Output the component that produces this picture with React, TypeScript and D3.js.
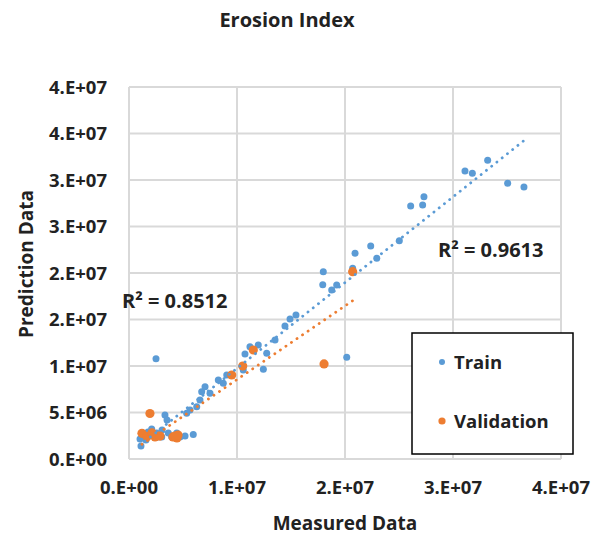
import React, { useEffect, useRef } from 'react'
import * as d3 from 'd3'

// values in units of 1e6
const trainX = [1.02, 1.11, 1.57, 2.1, 2.56, 3.03, 2.69, 3.33, 3.52, 3.64, 3.95, 4.42, 5.95, 2.5, 5.34, 5.65, 6.27, 6.57, 6.73, 7.04, 7.5, 8.27, 8.73, 9.05, 10.58, 10.74, 11.2, 11.97, 12.44, 12.75, 13.52, 14.44, 14.91, 15.46, 17.94, 17.99, 18.77, 19.23, 20.16, 20.71, 20.93, 22.38, 22.94, 25.03, 26.08, 27.19, 27.31, 31.11, 31.79, 33.21, 35.06, 36.57, 1.76, 3.06, 4.72, 5.19]
const trainY = [2.15, 1.4, 2.04, 3.23, 2.8, 2.37, 2.37, 4.73, 4.19, 2.8, 2.4, 2.8, 2.63, 10.78, 4.91, 5.27, 5.62, 6.34, 7.24, 7.77, 7.06, 8.49, 8.14, 9.03, 9.57, 11.29, 12.08, 12.26, 9.65, 11.37, 12.8, 14.3, 15.05, 15.48, 18.74, 20.14, 18.17, 18.71, 10.94, 20.5, 22.12, 22.9, 21.58, 23.47, 27.2, 27.31, 28.2, 30.97, 30.72, 32.12, 29.65, 29.25, 2.9, 3.12, 2.37, 2.47]
const validX = [1.94, 1.2, 1.67, 2.13, 2.41, 4.07, 4.44, 4.26, 4.54, 9.51, 10.53, 11.51, 18.06, 20.71, 2.87]
const validY = [4.89, 2.76, 2.4, 2.8, 2.37, 2.37, 2.26, 2.47, 2.58, 9.03, 10.0, 11.72, 10.22, 20.14, 2.47]

const yTickValues = [0, 5, 10, 15, 20, 25, 30, 35, 40]
const yTickLabels = ['0.E+00', '5.E+06', '1.E+07', '2.E+07', '2.E+07', '3.E+07', '3.E+07', '4.E+07', '4.E+07']
const xTickValues = [0, 10, 20, 30, 40]
const xTickLabels = ['0.E+00', '1.E+07', '2.E+07', '3.E+07', '4.E+07']

const seriesNames = ['Train', 'Validation']
const seriesColors = ['#5B9BD5', '#ED7D31']
const r2Labels = ['R\u00b2 = 0.9613', 'R\u00b2 = 0.8512']

function fit(xs: number[], ys: number[]) {
    const mx = d3.mean(xs)!
    const my = d3.mean(ys)!
    let sxy = 0
    let sxx = 0
    xs.forEach((x, i) => {
        sxy += (x - mx) * (ys[i] - my)
        sxx += (x - mx) * (x - mx)
    })
    const slope = sxy / sxx
    return { slope, intercept: my - slope * mx, x0: d3.min(xs)!, x1: d3.max(xs)! }
}

export default function App() {
    const svgRef = useRef<SVGSVGElement>(null)

    const width = 603
    const height = 537

    useEffect(() => {
        const font = '"Open Sans", "Liberation Sans", sans-serif'
        const svg = d3.select(svgRef.current).attr('width', width).attr('height', height)
        svg.selectAll('*').remove()

        const x = d3.scaleLinear().domain([0, 40]).range([129, 561])
        const y = d3.scaleLinear().domain([0, 40]).range([459, 87])

        svg.append('rect').attr('width', width).attr('height', height).attr('fill', '#fff')

        // grid
        const grid = svg.append('g').attr('stroke', '#d9d9d9').attr('stroke-width', 2)
        yTickValues.forEach((v) => {
            grid.append('line').attr('x1', x(0)).attr('x2', x(40)).attr('y1', y(v)).attr('y2', y(v))
        })
        xTickValues.forEach((v) => {
            grid.append('line').attr('x1', x(v)).attr('x2', x(v)).attr('y1', y(0)).attr('y2', y(40))
        })

        // tick labels
        const ticks = svg.append('g').attr('font-family', font).attr('font-weight', 700).attr('font-size', 18.5).attr('fill', '#222')
        yTickValues.forEach((v, i) => {
            ticks.append('text').attr('x', 107).attr('y', y(v)).attr('dy', '0.36em').attr('text-anchor', 'end').text(yTickLabels[i])
        })
        xTickValues.forEach((v, i) => {
            ticks.append('text').attr('x', x(v)).attr('y', 494).attr('text-anchor', 'middle').text(xTickLabels[i])
        })

        // titles
        svg.append('text').attr('x', 287).attr('y', 27).attr('text-anchor', 'middle')
            .attr('font-family', font).attr('font-weight', 700).attr('font-size', 20).attr('fill', '#222').text('Erosion Index')
        svg.append('text').attr('x', 345).attr('y', 530).attr('text-anchor', 'middle')
            .attr('font-family', font).attr('font-weight', 700).attr('font-size', 19).attr('fill', '#222').text('Measured Data')
        svg.append('text').attr('transform', 'translate(33,264) rotate(-90)').attr('text-anchor', 'middle')
            .attr('font-family', font).attr('font-weight', 700).attr('font-size', 19).attr('fill', '#222').text('Prediction Data')

        // points
        const sets = [
            { xs: trainX, ys: trainY, r: 3.5 },
            { xs: validX, ys: validY, r: 4.6 },
        ]
        sets.forEach((s, k) => {
            svg.append('g').selectAll('circle').data(s.xs).enter().append('circle')
                .attr('cx', (d) => x(d)).attr('cy', (d, i) => y(s.ys[i])).attr('r', s.r)
                .attr('fill', seriesColors[k])
        })

        // trendlines
        sets.forEach((s, k) => {
            const f = fit(s.xs, s.ys)
            svg.append('line')
                .attr('x1', x(f.x0)).attr('y1', y(f.intercept + f.slope * f.x0))
                .attr('x2', x(f.x1)).attr('y2', y(f.intercept + f.slope * f.x1))
                .attr('stroke', seriesColors[k]).attr('stroke-width', 2.8)
                .attr('stroke-linecap', 'round').attr('stroke-dasharray', '0.1 6.6')
        })

        // R2 labels
        svg.append('text').attr('x', 438).attr('y', 257).attr('font-family', font).attr('font-weight', 700)
            .attr('font-size', 20).attr('fill', '#222').text(r2Labels[0])
        svg.append('text').attr('x', 122).attr('y', 308).attr('font-family', font).attr('font-weight', 700)
            .attr('font-size', 20).attr('fill', '#222').text(r2Labels[1])

        // legend
        const lg = svg.append('g')
        lg.append('rect').attr('x', 412).attr('y', 333).attr('width', 161).attr('height', 121)
            .attr('fill', '#fff').attr('stroke', '#000').attr('stroke-width', 1.5)
        seriesNames.forEach((n, i) => {
            const cy = 362 + i * 59
            lg.append('circle').attr('cx', 442).attr('cy', cy).attr('r', i === 0 ? 3 : 3.6).attr('fill', seriesColors[i])
            lg.append('text').attr('x', 454).attr('y', cy).attr('dy', '0.36em').attr('font-family', font)
                .attr('font-weight', 700).attr('font-size', 18.5).attr('fill', '#222').text(n)
        })
    }, [])

    return (
        <div>
            <svg ref={svgRef} style={{ position: 'absolute', left: 0, top: 0 }} />
        </div>
    )
}
